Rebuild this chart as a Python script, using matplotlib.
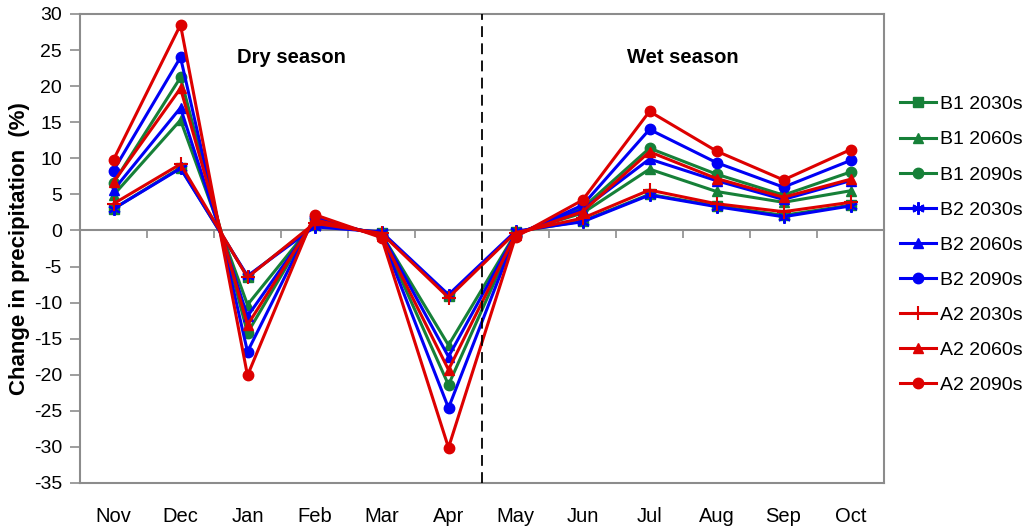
import matplotlib
matplotlib.use("Agg")
import matplotlib.pyplot as plt

plt.rcParams['font.family'] = ['Liberation Sans', 'DejaVu Sans']

months = ['Nov', 'Dec', 'Jan', 'Feb', 'Mar', 'Apr', 'May', 'Jun', 'Jul', 'Aug', 'Sep', 'Oct']
yticks = [30, 25, 20, 15, 10, 5, 0, -5, -10, -15, -20, -25, -30, -35]

series_names = ['B1 2030s', 'B1 2060s', 'B1 2090s',
                'B2 2030s', 'B2 2060s', 'B2 2090s',
                'A2 2030s', 'A2 2060s', 'A2 2090s']

B1_2030 = [3.0, 8.7, -6.4, 0.8, -0.3, -9.1, -0.2, 1.3, 5.0, 3.4, 2.1, 3.5]
B1_2060 = [4.9, 15.3, -10.3, 1.2, -0.5, -15.9, -0.4, 2.4, 8.5, 5.4, 3.9, 5.5]
B1_2090 = [6.6, 21.2, -14.2, 1.6, -0.7, -21.4, -0.6, 3.1, 11.4, 7.8, 4.9, 8.1]
B2_2030 = [3.0, 8.6, -6.3, 0.5, -0.2, -8.9, -0.1, 1.2, 4.9, 3.3, 1.9, 3.4]
B2_2060 = [5.6, 17.0, -11.9, 1.3, -0.5, -17.5, -0.5, 2.9, 9.9, 6.9, 4.3, 6.9]
B2_2090 = [8.3, 24.0, -16.8, 1.8, -0.8, -24.6, -0.7, 3.5, 14.0, 9.4, 6.0, 9.7]
A2_2030 = [3.7, 9.2, -6.5, 1.0, -0.4, -9.3, -0.3, 1.7, 5.6, 3.7, 2.6, 3.9]
A2_2060 = [6.7, 19.7, -13.1, 1.5, -0.7, -19.3, -0.6, 2.6, 10.9, 7.2, 4.6, 7.1]
A2_2090 = [9.8, 28.5, -20.1, 2.2, -1.0, -30.1, -0.9, 4.2, 16.5, 11.0, 7.0, 11.2]

data = [B1_2030, B1_2060, B1_2090, B2_2030, B2_2060, B2_2090, A2_2030, A2_2060, A2_2090]

GREEN = '#168038'
BLUE = '#0000F5'
RED = '#DD0000'
colors = [GREEN, GREEN, GREEN, BLUE, BLUE, BLUE, RED, RED, RED]
markers = ['s', '^', 'o', (6, 2, 0), '^', 'o', '+', '^', 'o']
msizes = [6.5, 7, 7.5, 9, 7, 7.5, 10, 7, 7.5]

fig = plt.figure(figsize=(10.31, 5.29), dpi=100)
ax = fig.add_axes([80 / 1031, 1 - 483 / 529, (884 - 80) / 1031, (483 - 14) / 529])

x = list(range(len(months)))
for vals, name, c, m, ms in zip(data, series_names, colors, markers, msizes):
    mew = 1.5 if m in ('+',) or isinstance(m, tuple) else 1.0
    ax.plot(x, vals, color=c, lw=2.2, marker=m, markersize=ms,
            markeredgewidth=mew, markeredgecolor=c, markerfacecolor=c,
            label=name, zorder=3)

ax.set_xlim(-0.5, len(months) - 0.5)
ax.set_ylim(-35, 30)

GRAY = '#8C8C8C'
for s in ax.spines.values():
    s.set_color(GRAY)
    s.set_linewidth(1.5)
ax.spines['bottom'].set_position(('data', 0))
ax.spines['bottom'].set_zorder(2)

# x ticks at category boundaries on the zero line
ax.set_xticks([i + 0.5 for i in range(len(months) - 1)])
ax.tick_params(axis='x', direction='out', length=6, width=1.2, color=GRAY, labelbottom=False)

ax.set_yticks(yticks)
ax.set_yticklabels([str(v) for v in yticks])
ax.tick_params(axis='y', direction='out', length=7, width=1.2, color=GRAY, pad=6,
               labelsize=14)

# bottom frame with month labels
sec = ax.secondary_xaxis(0.0)
sec.set_xticks(x)
sec.set_xticklabels(months)
sec.tick_params(length=0, pad=17, labelsize=14.5)
sec.spines['bottom'].set_color(GRAY)
sec.spines['bottom'].set_linewidth(1.5)

ax.axvline(5.5, color='black', lw=1.3, ls=(0, (6, 3.5)), zorder=4)

ax.set_ylabel('Change in precipitation  (%)', fontsize=16, fontweight='bold', labelpad=3)

ax.text(2.66, 24.0, 'Dry season', fontsize=14.5, fontweight='bold', ha='center', va='center')
ax.text(8.49, 24.0, 'Wet season', fontsize=14.5, fontweight='bold', ha='center', va='center')

fig.legend(loc='center left', bbox_to_anchor=(0.873, 0.537), frameon=False,
           fontsize=14, handlelength=1.85, labelspacing=0.9, handletextpad=0.2,
           borderpad=0, borderaxespad=0)

fig.savefig('out.png', dpi=100)
